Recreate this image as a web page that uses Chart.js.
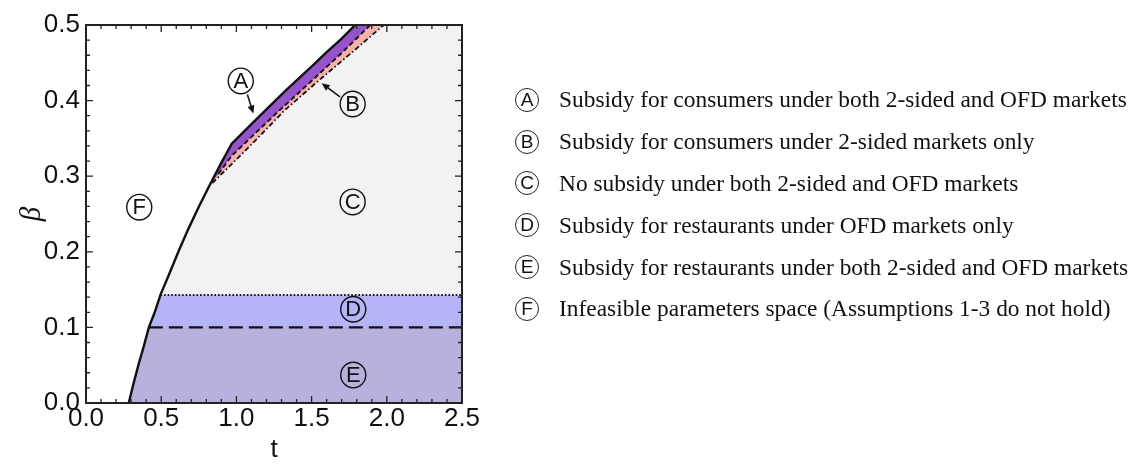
<!DOCTYPE html>
<html>
<head>
<meta charset="utf-8">
<script src="https://cdn.jsdelivr.net/npm/chart.js@4.4.0/dist/chart.umd.min.js"></script>
<style>
  html, body { margin: 0; padding: 0; background: #fff; }
  #wrap { position: relative; width: 1133px; height: 465px; overflow: hidden; }
  #chart { position: absolute; left: 0; top: 0; }
  .legend { position: absolute; left: 515px; top: 79px; font-family: "Liberation Serif", "Times New Roman", serif; font-size: 23.4px; color: #111; }
  .row { height: 41.8px; display: flex; align-items: center; white-space: nowrap; }
  .badge { display: inline-flex; width: 24px; height: 24px; border: 1.3px solid #222; border-radius: 50%; align-items: center; justify-content: center; font-family: "Liberation Sans", Arial, sans-serif; font-size: 19px; margin-right: 20px; box-sizing: border-box; }
</style>
</head>
<body>
<div id="wrap">
  <canvas id="chart" width="1133" height="465"></canvas>
  <div class="legend" id="legend"></div>
</div>
<script>
// axis ranges and tick labels
const xMin = 0, xMax = 2.5, yMin = 0, yMax = 0.5;
const xTicks = [0, 0.5, 1.0, 1.5, 2.0, 2.5];
const yTicks = [0, 0.1, 0.2, 0.3, 0.4, 0.5];
const xMinorStep = 0.1, yMinorStep = 0.02;

// solid boundary (left of it: infeasible region F)
const boundT = [0.284, 0.315, 0.348, 0.384, 0.418, 0.457, 0.495, 0.552, 0.614, 0.68, 0.751, 0.822, 0.895, 0.969, 1.10, 1.22, 1.32, 1.42, 1.51, 1.60, 1.70, 1.79];
const boundB = [0, 0.025, 0.05, 0.075, 0.1, 0.12, 0.143, 0.17, 0.2, 0.23, 0.26, 0.288, 0.316, 0.343, 0.369, 0.3925, 0.412, 0.4305, 0.447, 0.464, 0.482, 0.5];

// dashed curve between A and B
const dashT = [0.88, 0.969, 1.10, 1.28, 1.50, 1.70, 1.89];
const dashB = [0.303, 0.327, 0.352, 0.386, 0.426, 0.463, 0.5];

// dash-dot curve between B and C
const dotDashT = [0.84, 0.969, 1.10, 1.32, 1.55, 1.77, 1.98];
const dotDashB = [0.291, 0.316, 0.342, 0.387, 0.427, 0.464, 0.5];

// horizontal thresholds
const betaHigh = 0.143; // dotted, top of D
const betaLow = 0.1;    // dashed, top of E

// region colours
const colA = "rgb(150, 84, 204)";
const colB = "rgb(246, 178, 170)";
const colC = "rgb(242, 242, 242)";
const colD = "rgb(180, 180, 246)";
const colE = "rgb(186, 176, 222)";

// circled labels inside the plot
const labelKeys = ["A", "B", "C", "D", "E", "F"];
const labelT = [1.029, 1.773, 1.773, 1.777, 1.777, 0.354];
const labelB = [0.426, 0.3955, 0.266, 0.124, 0.037, 0.259];

// arrows pointing at the thin regions A and B
const arrowFromT = [1.073, 1.689];
const arrowFromB = [0.408, 0.405];
const arrowToT = [1.113, 1.567];
const arrowToB = [0.383, 0.423];

// legend
const legendText = [
  "Subsidy for consumers under both 2-sided and OFD markets",
  "Subsidy for consumers under 2-sided markets only",
  "No subsidy under both 2-sided and OFD markets",
  "Subsidy for restaurants under OFD markets only",
  "Subsidy for restaurants under both 2-sided and OFD markets",
  "Infeasible parameters space (Assumptions 1-3 do not hold)"
];

const pts = (ts, bs) => ts.map((t, i) => ({ x: t, y: bs[i] }));
const boundPts = pts(boundT, boundB);
const dashPts = pts(dashT, dashB);
const dotDashPts = pts(dotDashT, dotDashB);
const corner = { x: xMax, y: yMax };

const regionA = [...boundPts, corner];
const regionB = [...boundPts.filter(p => p.x < dashT[0]), ...dashPts, corner];
const regionC = [...boundPts.filter(p => p.x < dotDashT[0]), ...dotDashPts, corner];
const regionD = [...boundPts.filter(p => p.y <= betaHigh), { x: xMax, y: betaHigh }];
const regionE = [...boundPts.filter(p => p.y <= betaLow), { x: xMax, y: betaLow }];

const startAt = (b) => boundPts.find(p => p.y >= b).x;

const area = (data, color, order) => ({
  data, backgroundColor: color, borderWidth: 0, fill: "origin", pointRadius: 0, tension: 0, order
});
const curve = (data, width, dash) => ({
  data, borderColor: "#111", borderWidth: width, borderDash: dash, fill: false, pointRadius: 0, tension: 0, order: 0
});

const overlay = {
  id: "overlay",
  afterDatasetsDraw(chart) {
    const { ctx, chartArea: a, scales: { x, y } } = chart;
    ctx.save();
    ctx.strokeStyle = "#222";
    ctx.lineWidth = 1.3;
    ctx.beginPath();
    const nx = Math.round((xMax - xMin) / xMinorStep);
    for (let i = 0; i <= nx; i++) {
      const px = x.getPixelForValue(xMin + i * xMinorStep);
      const len = i % 5 === 0 ? 7 : 4;
      ctx.moveTo(px, a.bottom); ctx.lineTo(px, a.bottom - len);
      ctx.moveTo(px, a.top); ctx.lineTo(px, a.top + len);
    }
    const ny = Math.round((yMax - yMin) / yMinorStep);
    for (let i = 0; i <= ny; i++) {
      const py = y.getPixelForValue(yMin + i * yMinorStep);
      const len = i % 5 === 0 ? 7 : 4;
      ctx.moveTo(a.left, py); ctx.lineTo(a.left + len, py);
      ctx.moveTo(a.right, py); ctx.lineTo(a.right - len, py);
    }
    ctx.stroke();
    ctx.lineWidth = 2;
    ctx.strokeRect(a.left, a.top, a.right - a.left, a.bottom - a.top);

    // arrows
    ctx.fillStyle = "#111";
    ctx.strokeStyle = "#111";
    ctx.lineWidth = 1.5;
    arrowFromT.forEach((t, i) => {
      const x0 = x.getPixelForValue(t), y0 = y.getPixelForValue(arrowFromB[i]);
      const x1 = x.getPixelForValue(arrowToT[i]), y1 = y.getPixelForValue(arrowToB[i]);
      const ang = Math.atan2(y1 - y0, x1 - x0);
      ctx.beginPath(); ctx.moveTo(x0, y0);
      ctx.lineTo(x1 - 6 * Math.cos(ang), y1 - 6 * Math.sin(ang)); ctx.stroke();
      ctx.beginPath();
      ctx.moveTo(x1, y1);
      ctx.lineTo(x1 - 8 * Math.cos(ang) + 3.5 * Math.sin(ang), y1 - 8 * Math.sin(ang) - 3.5 * Math.cos(ang));
      ctx.lineTo(x1 - 8 * Math.cos(ang) - 3.5 * Math.sin(ang), y1 - 8 * Math.sin(ang) + 3.5 * Math.cos(ang));
      ctx.closePath(); ctx.fill();
    });

    // circled region labels
    ctx.font = "22px 'Liberation Sans', Arial, sans-serif";
    ctx.textAlign = "center";
    ctx.textBaseline = "middle";
    ctx.lineWidth = 1.4;
    labelKeys.forEach((k, i) => {
      const cx = x.getPixelForValue(labelT[i]), cy = y.getPixelForValue(labelB[i]);
      ctx.beginPath();
      ctx.ellipse(cx, cy, 12.5, 12.8, 0, 0, Math.PI * 2);
      ctx.stroke();
      ctx.fillText(k, cx, cy + 1);
    });
    ctx.restore();
  }
};

const tickFont = { family: "'Liberation Sans', Arial, sans-serif", size: 26 };

new Chart(document.getElementById("chart"), {
  type: "line",
  data: {
    datasets: [
      area(regionA, colA, 10),
      area(regionB, colB, 9),
      area(regionC, colC, 8),
      area(regionD, colD, 7),
      area(regionE, colE, 6),
      curve(boundPts, 2.4, []),
      curve(dashPts, 1.9, [5, 3]),
      curve(dotDashPts, 1.8, [5, 2.5, 1.5, 2.5]),
      curve([{ x: startAt(betaHigh), y: betaHigh }, { x: xMax, y: betaHigh }], 2, [1.6, 2]),
      curve([{ x: startAt(betaLow), y: betaLow }, { x: xMax, y: betaLow }], 2.4, [14, 6])
    ]
  },
  options: {
    responsive: false,
    animation: false,
    devicePixelRatio: 1,
    layout: { padding: { left: 0, top: 25, right: 1133 - 462, bottom: 0 } },
    plugins: { legend: { display: false }, tooltip: { enabled: false } },
    scales: {
      x: {
        type: "linear", min: xMin, max: xMax,
        grid: { display: false, drawTicks: false }, border: { display: false },
        afterBuildTicks: s => { s.ticks = xTicks.map(v => ({ value: v })); },
        afterFit: s => { s.height = 62; },
        ticks: { font: tickFont, color: "#111", padding: 0, maxRotation: 0, autoSkip: false, callback: v => v.toFixed(1) },
        title: { display: true, text: "t", font: { family: "'Liberation Sans', Arial, sans-serif", size: 26 }, color: "#111", padding: { top: 0, bottom: 0 } }
      },
      y: {
        type: "linear", min: yMin, max: yMax,
        grid: { display: false, drawTicks: false }, border: { display: false },
        afterBuildTicks: s => { s.ticks = yTicks.map(v => ({ value: v })); },
        afterFit: s => { s.width = 86; },
        ticks: { font: tickFont, color: "#111", padding: 6, autoSkip: false, callback: v => v.toFixed(1) },
        title: { display: true, text: "β", font: { family: "'Liberation Serif', serif", size: 29, style: "italic" }, color: "#111", padding: { top: 15, bottom: 0 } }
      }
    }
  },
  plugins: [overlay]
});

const legend = document.getElementById("legend");
legendText.forEach((txt, i) => {
  const row = document.createElement("div");
  row.className = "row";
  row.innerHTML = `<span class="badge">${labelKeys[i]}</span><span>${txt}</span>`;
  legend.appendChild(row);
});
</script>
</body>
</html>
